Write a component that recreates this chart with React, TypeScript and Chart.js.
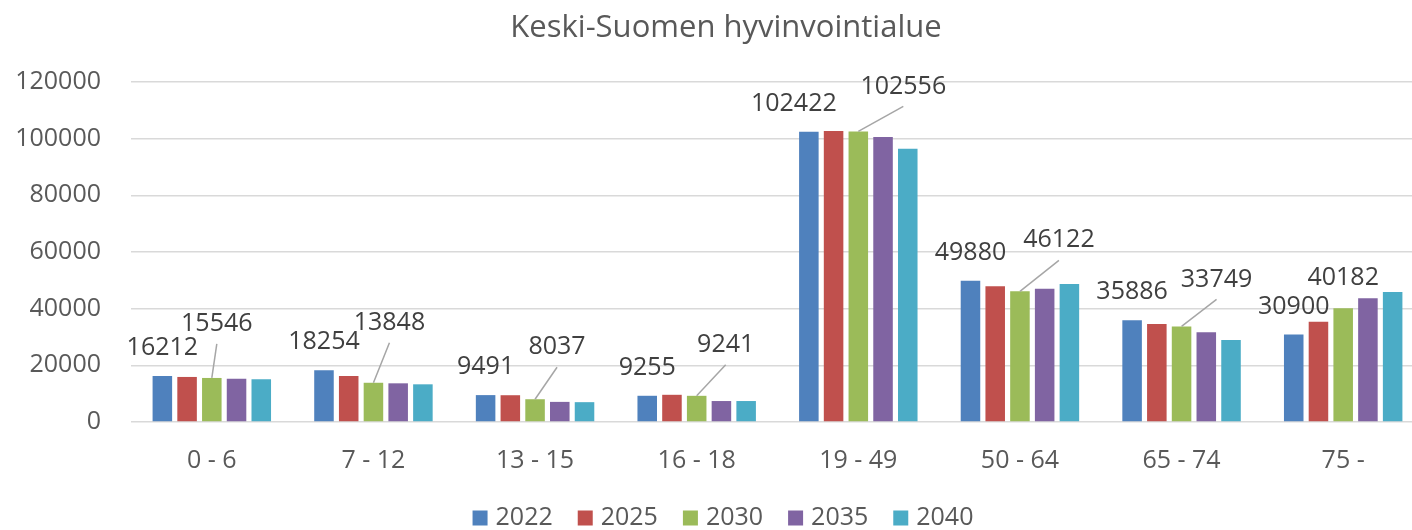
import React, { useEffect, useRef } from "react";
import { Chart, registerables } from "chart.js";

Chart.register(...registerables);

const categories = ["0 - 6", "7 - 12", "13 - 15", "16 - 18", "19 - 49", "50 - 64", "65 - 74", "75 -"];
const seriesNames = ["2022", "2025", "2030", "2035", "2040"];
const v2022 = [16212, 18254, 9491, 9255, 102422, 49880, 35886, 30900];
const v2025 = [15900, 16200, 9450, 9600, 102700, 47900, 34600, 35400];
const v2030 = [15546, 13848, 8037, 9241, 102556, 46122, 33749, 40182];
const v2035 = [15300, 13650, 7100, 7400, 100600, 47050, 31650, 43700];
const v2040 = [15050, 13300, 7000, 7400, 96400, 48700, 28950, 45900];
const yTicks = [0, 20000, 40000, 60000, 80000, 100000, 120000];
const titleText = "Keski-Suomen hyvinvointialue";

const colors = ["#4F81BD", "#C0504D", "#9BBB59", "#8064A2", "#4BACC6"];
const FONT = "'Open Sans', 'Noto Sans', sans-serif";

// label placement (pixels relative to bar top centre)
const off2022: [number, number][] = [[0, -28], [0, -28], [0, -28], [0, -28], [-15, -28], [0, -28], [0, -28], [0, -28]];
const off2030: [number, number, boolean][] = [
  [5, -54, true], [16, -60, true], [22, -52, true], [29, -51, true],
  [45, -45, true], [39, -51, true], [35, -47, true], [0, -30, false],
];

const labelPlugin = {
  id: "customLabels",
  afterDatasetsDraw(chart: any) {
    const ctx = chart.ctx;
    ctx.save();
    ctx.font = `25px ${FONT}`;
    ctx.fillStyle = "#404040";
    ctx.textAlign = "center";
    ctx.textBaseline = "middle";
    const m0 = chart.getDatasetMeta(0);
    m0.data.forEach((bar: any, i: number) => {
      const [dx, dy] = off2022[i];
      ctx.fillText(String(chart.data.datasets[0].data[i]), bar.x + dx, bar.y + dy);
    });
    const m2 = chart.getDatasetMeta(2);
    m2.data.forEach((bar: any, i: number) => {
      const [dx, dy, leader] = off2030[i];
      const lx = bar.x + dx;
      const ly = bar.y + dy;
      if (leader) {
        ctx.strokeStyle = "#A6A6A6";
        ctx.lineWidth = 1.5;
        ctx.beginPath();
        ctx.moveTo(bar.x, bar.y);
        ctx.lineTo(lx, ly + 20);
        ctx.stroke();
      }
      ctx.fillText(String(chart.data.datasets[2].data[i]), lx, ly);
    });
    ctx.restore();
  },
};

const titleLegendPlugin = {
  id: "titleLegend",
  afterDraw(chart: any) {
    const ctx = chart.ctx;
    ctx.save();
    // title, centred on the whole chart
    ctx.font = `31px ${FONT}`;
    ctx.fillStyle = "#595959";
    ctx.textAlign = "center";
    ctx.textBaseline = "middle";
    ctx.fillText(titleText, chart.width / 2, 28);

    // legend
    ctx.font = `25px ${FONT}`;
    ctx.textAlign = "left";
    const ds = chart.data.datasets;
    const box = 15, gapText = 8, gapItem = 25;
    const widths = ds.map((d: any) => ctx.measureText(d.label).width);
    const total = widths.reduce((a: number, w: number) => a + box + gapText + w, 0) + gapItem * (ds.length - 1);
    let x = chart.width / 2 - 3 - total / 2;
    const cy = 518;
    ds.forEach((d: any, i: number) => {
      ctx.fillStyle = d.backgroundColor;
      ctx.fillRect(x, cy - box / 2, box, box);
      x += box + gapText;
      ctx.fillStyle = "#595959";
      ctx.fillText(d.label, x, cy);
      x += widths[i] + gapItem;
    });
    ctx.restore();
  },
};

export default function App() {
  const ref = useRef<HTMLCanvasElement | null>(null);
  useEffect(() => {
    document.body.style.margin = "0";
    const canvas = ref.current;
    if (!canvas) return;
    const values = [v2022, v2025, v2030, v2035, v2040];
    const chart = new Chart(canvas, {
      type: "bar",
      data: {
        labels: categories,
        datasets: seriesNames.map((name, k) => ({
          label: name,
          data: values[k],
          backgroundColor: colors[k],
          borderWidth: 0,
          categoryPercentage: 0.765,
          barPercentage: 0.79,
        })),
      },
      options: {
        responsive: false,
        animation: false,
        devicePixelRatio: 1,
        layout: { padding: { left: 0, right: 28, top: 82, bottom: 54 } },
        plugins: {
          title: { display: false },
          legend: { display: false },
          tooltip: { enabled: false },
        },
        scales: {
          x: {
            grid: { display: false, drawTicks: false },
            border: { display: false },
            ticks: { color: "#595959", font: { family: FONT, size: 25 }, padding: 24 },
            afterFit: (scale: any) => {
              scale.height = 54;
            },
          },
          y: {
            min: 0,
            max: 120000,
            afterBuildTicks: (scale: any) => {
              scale.ticks = yTicks.map((v) => ({ value: v }));
            },
            afterFit: (scale: any) => {
              scale.width = 131;
            },
            grid: { color: "#D9D9D9", lineWidth: 1.5, drawTicks: false },
            border: { display: false },
            ticks: {
              color: "#595959",
              font: { family: FONT, size: 25 },
              padding: 30,
              callback: (v: any) => String(v),
            },
          },
        },
      },
      plugins: [labelPlugin, titleLegendPlugin],
    });
    return () => chart.destroy();
  }, []);
  return (
    <div style={{ width: 1412, height: 530, overflow: "hidden", background: "#fff" }}>
      <canvas ref={ref} width={1452} height={530} style={{ display: "block" }} />
    </div>
  );
}
